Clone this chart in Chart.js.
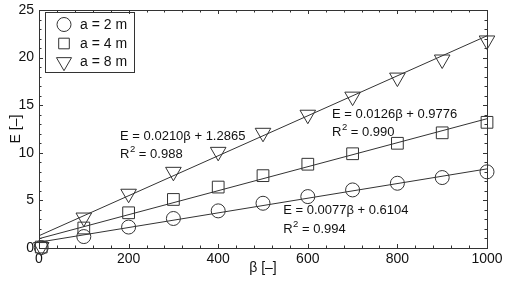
<!DOCTYPE html>
<html>
<head>
<meta charset="utf-8">
<script src="https://cdn.jsdelivr.net/npm/chart.js@4/dist/chart.umd.min.js"></script>
<style>
  html, body { margin: 0; padding: 0; background: #fff; }
  #wrap { width: 505px; height: 285px; position: relative; }
</style>
</head>
<body>
<div id="wrap"><canvas id="c" width="505" height="285"></canvas></div>
<script>
// ---- data ----
const beta = [5, 100, 200, 300, 400, 500, 600, 700, 800, 900, 1000];
const Ea2 = [0.05, 1.2, 2.2, 3.1, 3.9, 4.7, 5.4, 6.1, 6.8, 7.4, 8.0];
const Ea4 = [0.1, 2.1, 3.7, 5.1, 6.4, 7.6, 8.8, 9.9, 11.0, 12.1, 13.2];
const Ea8 = [0.1, 3.2, 5.7, 8.0, 10.1, 12.1, 14.0, 15.9, 17.9, 19.8, 21.8];
const fitBeta = [0, 1000];
const fitA2 = [0.61, 8.31];
const fitA4 = [0.98, 13.58];
const fitA8 = [1.29, 22.29];
const seriesLabels = ['a = 2 m', 'a = 4 m', 'a = 8 m'];
const xTicks = [0, 200, 400, 600, 800, 1000];
const yTicks = [0, 5, 10, 15, 20, 25];
// annotation anchors in data units: [beta, E] for equation line, R² line
const annotations = [
  { eq: 'E = 0.0210\u03B2 + 1.2865', r2: ' = 0.988', at: [181, 11.7], at2: [181, 9.85] },
  { eq: 'E = 0.0126\u03B2 + 0.9776', r2: ' = 0.990', at: [654, 14.0], at2: [654, 12.1] },
  { eq: 'E = 0.0077\u03B2 + 0.6104', r2: ' = 0.994', at: [545, 3.94], at2: [545, 1.97] }
];

const INK = '#333';
const FONT = '"Liberation Sans", Arial, sans-serif';
const pts = (xs, ys) => xs.map((x, i) => ({ x: x, y: ys[i] }));

function markerDs(label, ys, style, radius, rotation) {
  return {
    label: label, data: pts(beta, ys), showLine: false,
    pointStyle: style, pointRadius: radius, pointHoverRadius: radius,
    pointRotation: rotation || 0,
    pointBorderColor: INK, pointBackgroundColor: 'rgba(0,0,0,0)',
    pointBorderWidth: 1, clip: false
  };
}
function fitDs(ys) {
  return {
    label: 'fit', data: pts(fitBeta, ys), showLine: true,
    borderColor: INK, borderWidth: 1, pointRadius: 0, fill: false
  };
}

const frameTicks = {
  id: 'frameTicks',
  afterDraw(chart) {
    const { ctx, chartArea: a, scales: { x, y } } = chart;
    ctx.save();
    ctx.strokeStyle = INK;
    ctx.lineWidth = 1;
    ctx.strokeRect(Math.round(a.left) + 0.5, Math.round(a.top) + 0.5,
      Math.round(a.right - a.left), Math.round(a.bottom - a.top));
    ctx.beginPath();
    for (let v = 0; v <= 1000; v += 40) {
      const px = Math.round(x.getPixelForValue(v)) + 0.5;
      const len = (v % 200 === 0) ? 4 : 2.5;
      ctx.moveTo(px, a.bottom); ctx.lineTo(px, a.bottom - len);
      ctx.moveTo(px, a.top); ctx.lineTo(px, a.top + len);
    }
    for (let v = 0; v <= 25; v += 1) {
      const py = Math.round(y.getPixelForValue(v)) + 0.5;
      const len = (v % 5 === 0) ? 4 : 2.5;
      ctx.moveTo(a.left, py); ctx.lineTo(a.left + len, py);
      ctx.moveTo(a.right, py); ctx.lineTo(a.right - len, py);
    }
    ctx.stroke();

    // annotations
    ctx.fillStyle = '#111';
    ctx.textBaseline = 'middle';
    ctx.textAlign = 'left';
    const f = '13px ' + FONT;
    annotations.forEach(an => {
      ctx.font = f;
      const x1 = x.getPixelForValue(an.at[0]);
      ctx.fillText(an.eq, x1, y.getPixelForValue(an.at[1]));
      const y2 = y.getPixelForValue(an.at2[1]);
      ctx.fillText('R', x1, y2);
      const wR = ctx.measureText('R').width;
      ctx.font = '9.5px ' + FONT;
      ctx.fillText('2', x1 + wR + 0.5, y2 - 5);
      const w2 = ctx.measureText('2').width;
      ctx.font = f;
      ctx.fillText(an.r2, x1 + wR + w2 + 0.5, y2);
    });

    // legend box
    const lx = 45.5, ly = 12.5, lw = 89, lh = 60;
    ctx.strokeStyle = INK;
    ctx.strokeRect(lx, ly, lw, lh);
    const styles = [['circle', 7, 0], ['rect', 7.5, 0], ['triangle', 8.7, 180]];
    const rows = [24.5, 43.5, 62];
    ctx.font = '14px ' + FONT;
    styles.forEach((s, i) => {
      ctx.fillStyle = 'rgba(0,0,0,0)';
      ctx.strokeStyle = INK;
      Chart.helpers.drawPoint(ctx, {
        pointStyle: s[0], radius: s[1], rotation: s[2], borderWidth: 1
      }, 64, rows[i]);
      ctx.fillStyle = '#111';
      ctx.fillText(seriesLabels[i], 80, rows[i] + 0.5);
    });
    ctx.restore();
  }
};

new Chart(document.getElementById('c'), {
  type: 'scatter',
  data: {
    datasets: [
      fitDs(fitA2), fitDs(fitA4), fitDs(fitA8),
      markerDs(seriesLabels[0], Ea2, 'circle', 7),
      markerDs(seriesLabels[1], Ea4, 'rect', 8.3),
      markerDs(seriesLabels[2], Ea8, 'triangle', 9, 180)
    ]
  },
  plugins: [frameTicks],
  options: {
    responsive: false,
    animation: false,
    events: [],
    layout: { padding: { top: 7, right: 18, left: 0, bottom: 0 } },
    plugins: { legend: { display: false }, tooltip: { enabled: false } },
    scales: {
      x: {
        type: 'linear', min: 0, max: 1000,
        afterBuildTicks: s => { s.ticks = xTicks.map(v => ({ value: v })); },
        afterFit: s => { s.height = 37; s.paddingLeft = 0; s.paddingRight = 0; s.paddingTop = 0; s.paddingBottom = 0; },
        grid: { display: false, drawTicks: false }, border: { display: false },
        ticks: { color: '#111', font: { family: FONT, size: 14 }, padding: 3, maxRotation: 0, autoSkip: false,
                 callback: v => String(v) },
        title: { display: true, text: '\u03B2 [\u2013]', color: '#111', font: { family: FONT, size: 14 }, padding: { top: 0, bottom: 8 } }
      },
      y: {
        type: 'linear', min: 0, max: 25,
        afterBuildTicks: s => { s.ticks = yTicks.map(v => ({ value: v })); },
        afterFit: s => { s.width = 39; s.paddingLeft = 0; s.paddingRight = 0; s.paddingTop = 0; s.paddingBottom = 0; },
        grid: { display: false, drawTicks: false }, border: { display: false },
        ticks: { color: '#111', font: { family: FONT, size: 14 }, padding: 5, autoSkip: false,
                 callback: v => String(v) },
        title: { display: true, text: 'E [\u2013]', color: '#111', font: { family: FONT, size: 14 }, padding: { top: 8, bottom: 0 } }
      }
    }
  }
});
</script>
</body>
</html>
